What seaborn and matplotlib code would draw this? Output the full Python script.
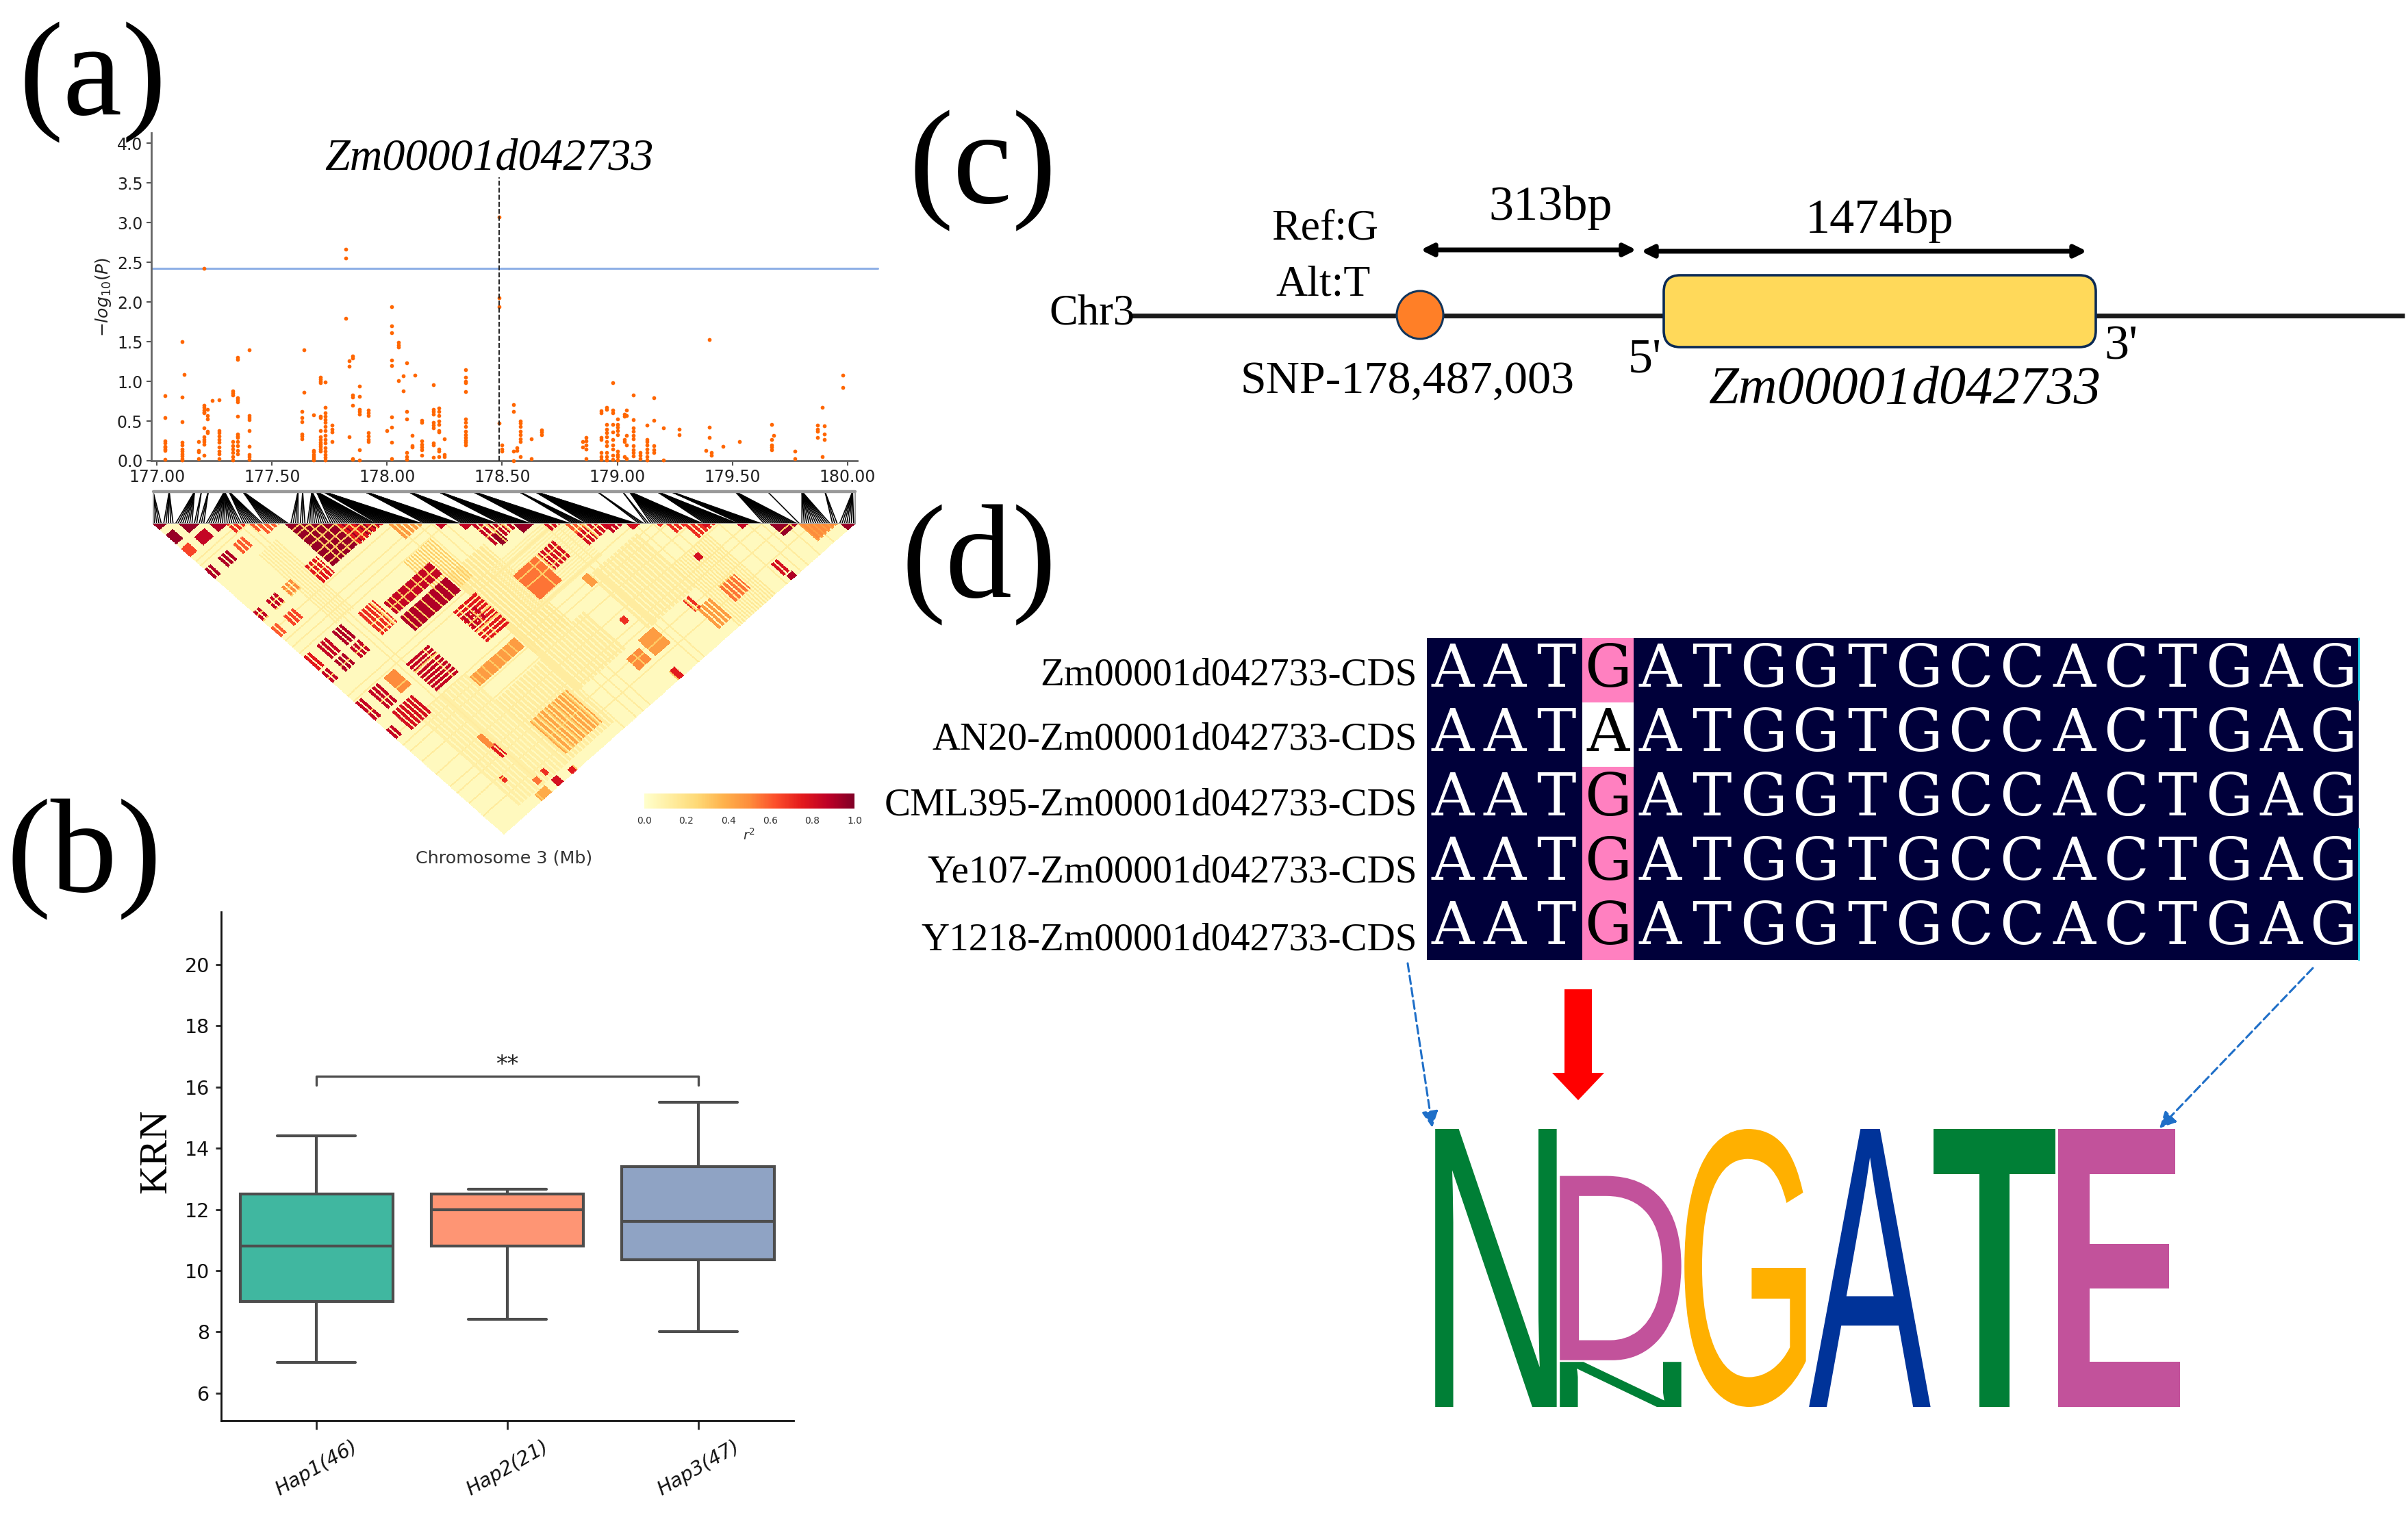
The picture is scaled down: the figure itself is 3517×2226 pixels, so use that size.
import numpy as np
import pandas as pd
import seaborn as sns
import matplotlib
matplotlib.use('Agg')
import matplotlib.pyplot as plt
from matplotlib.colors import ListedColormap
from matplotlib.font_manager import FontProperties
from matplotlib.patches import Ellipse, FancyArrow, FancyBboxPatch, PathPatch
from matplotlib.textpath import TextPath
from matplotlib.transforms import Affine2D

W, H = 3517, 2226

########
# Data #
########

gene_name = 'Zm00001d042733'
snp_mb = 178.487
threshold = 2.42

# (a) manhattan, one position per column of dots
gwas_mb = [177.035, 177.11, 177.12, 177.18, 177.205, 177.22, 177.24, 177.27, 177.33, 177.35, 177.40,
           177.63, 177.64, 177.68, 177.71, 177.73, 177.76, 177.82, 177.835, 177.85, 177.88, 177.92,
           178.00, 178.02, 178.05, 178.07, 178.085, 178.11, 178.12, 178.15, 178.20, 178.225, 178.25,
           178.34, 178.487, 178.50, 178.55, 178.565, 178.58, 178.625, 178.67, 178.85, 178.865,
           178.93, 178.955, 178.98, 179.00, 179.03, 179.04, 179.07, 179.10, 179.13, 179.16, 179.20,
           179.27, 179.385, 179.40, 179.41, 179.46, 179.53, 179.67, 179.68, 179.77, 179.87, 179.89,
           179.90, 179.98]
gwas_logp = [[0.82, 0.54, 0.25, 0.22, 0.18, 0.17, 0.15, 0.13, 0.02],
             [1.50, 0.80, 0.49, 0.23, 0.20, 0.15, 0.12, 0.09, 0.06, 0.03, 0.01],
             [1.09],
             [0.24, 0.13, 0.11, 0.03],
             [2.42, 0.70, 0.67, 0.64, 0.61, 0.60, 0.41, 0.30, 0.27, 0.24, 0.21, 0.07],
             [0.65, 0.57, 0.53, 0.37, 0.35],
             [0.76],
             [0.77, 0.38, 0.35, 0.31, 0.27, 0.23, 0.17, 0.12, 0.09, 0.03],
             [0.88, 0.85, 0.83, 0.24, 0.19, 0.15, 0.10, 0.05, 0.01],
             [1.30, 1.28, 0.79, 0.77, 0.74, 0.56, 0.34, 0.31, 0.29, 0.24, 0.19, 0.13, 0.09],
             [1.40, 0.57, 0.54, 0.52, 0.38, 0.18, 0.08, 0.05, 0.02],
             [0.62, 0.54, 0.49, 0.34, 0.31, 0.28],
             [1.40, 0.86],
             [0.58, 0.13, 0.11, 0.08, 0.05, 0.03, 0.01],
             [1.05, 1.03, 1.00, 0.98, 0.56, 0.54, 0.38, 0.30, 0.27, 0.23, 0.21, 0.18, 0.15, 0.12],
             [0.99, 0.67, 0.60, 0.56, 0.52, 0.48, 0.43, 0.38, 0.32, 0.27, 0.22, 0.16, 0.12, 0.08, 0.04, 0.01],
             [0.45, 0.40, 0.36, 0.24],
             [2.66, 2.55, 1.79],
             [1.26, 1.19, 0.30],
             [1.32, 1.29, 0.83, 0.80, 0.70, 0.03, 0.02],
             [0.94, 0.81, 0.65, 0.62, 0.59, 0.14, 0.01],
             [0.64, 0.60, 0.57, 0.35, 0.31, 0.27, 0.24],
             [0.38],
             [1.94, 1.70, 1.61, 1.27, 1.20, 0.55, 0.42, 0.23, 0.03],
             [1.49, 1.46, 1.43, 1.01],
             [1.07, 0.88],
             [1.23, 0.62, 0.53, 0.10, 0.05, 0.02],
             [0.32, 0.19, 0.17],
             [1.08],
             [0.51, 0.48, 0.25, 0.21, 0.17, 0.14, 0.07],
             [0.96, 0.65, 0.62, 0.59, 0.48, 0.45, 0.41, 0.22, 0.20, 0.04],
             [0.66, 0.62, 0.57, 0.50, 0.46, 0.38, 0.36, 0.15, 0.12, 0.05],
             [0.28, 0.08, 0.05],
             [1.15, 1.05, 1.00, 0.98, 0.87, 0.53, 0.48, 0.43, 0.37, 0.33, 0.29, 0.26, 0.23, 0.20],
             [3.07, 2.05, 1.94, 0.47],
             [0.20, 0.15, 0.12],
             [0.71, 0.62, 0.12, 0.00],
             [0.16, 0.13],
             [0.50, 0.47, 0.43, 0.37, 0.33, 0.28, 0.24, 0.05],
             [0.28, 0.03],
             [0.39, 0.36, 0.33],
             [0.24, 0.17],
             [0.29, 0.25, 0.20, 0.15, 0.03],
             [0.63, 0.60, 0.29, 0.27, 0.10, 0.05, 0.02],
             [0.67, 0.65, 0.46, 0.40, 0.35, 0.30, 0.24, 0.19, 0.10, 0.05, 0.01],
             [0.98, 0.64, 0.60, 0.46, 0.36, 0.27, 0.20, 0.15, 0.07, 0.02],
             [0.53, 0.46, 0.42, 0.38, 0.33, 0.12, 0.08, 0.05, 0.01],
             [0.59, 0.56, 0.27, 0.24, 0.05],
             [0.64, 0.57, 0.32, 0.20, 0.03],
             [0.83, 0.52, 0.41, 0.37, 0.32, 0.28, 0.19, 0.14, 0.10, 0.06],
             [0.10, 0.07, 0.03],
             [0.45, 0.27, 0.24, 0.20, 0.15, 0.10, 0.05, 0.01],
             [0.79, 0.51, 0.19, 0.14, 0.10],
             [0.41, 0.01],
             [0.40, 0.33],
             [0.13],
             [1.53, 0.42, 0.29],
             [0.10, 0.07],
             [0.18],
             [0.24],
             [0.46, 0.27, 0.20, 0.17, 0.14],
             [0.32],
             [0.12, 0.03],
             [0.45, 0.40, 0.37, 0.29],
             [0.67, 0.05],
             [0.44, 0.34, 0.27],
             [1.08, 0.92]]

# (a) connector fans between the axis and the LD triangle: position, number of SNPs
fan_mb = [176.98, 177.05, 177.16, 177.19, 177.22, 177.29, 177.31, 177.37, 177.61, 177.63, 177.67, 177.69,
          177.72, 177.90, 178.09, 178.22, 178.37, 178.57, 178.64, 178.91, 179.02, 179.05, 179.17, 179.23,
          179.51, 179.65, 179.80, 179.90, 180.02]
fan_snps = [4, 5, 8, 2, 3, 16, 9, 11, 4, 3, 10, 20, 20, 16, 16, 14, 17, 6, 22, 3, 2, 23, 15, 10, 15, 1, 13, 3, 7]

# (a) LD blocks read off the triangle: first/last SNP on each side, r2, stripe spacing
# stripe: 1 solid, above 1 stripes along the rows, below -1 stripes along the columns
ld_i0 = [30, 100, 60, 160, 200, 100, 20, 120, 88,
         0, 11, 24, 56, 44, 135, 153, 175, 225, 262, 292, 274,
         0, 11, 0, 0, 11, 24, 44, 11, 0, 24, 11, 0,
         60, 60, 24, 11, 0, 24, 11, 0, 24, 11, 0, 11, 0,
         40, 44, 85, 61, 128, 148, 156, 210, 190, 150, 136, 65, 32, 46, 58, 36, 35, 148, 188, 243, 244,
         166, 175, 191, 201, 214, 218, 233, 248, 270, 275, 31, 41, 78, 100, 120, 130, 138,
         152, 214, 46, 38, 25, 86]
ld_i1 = [44, 130, 100, 200, 230, 140, 60, 175, 110,
         5, 19, 31, 96, 53, 155, 161, 195, 238, 273, 299, 290,
         5, 19, 5, 5, 19, 31, 53, 19, 5, 31, 19, 5,
         98, 98, 31, 19, 5, 31, 19, 5, 32, 19, 5, 28, 5,
         58, 56, 103, 98, 146, 162, 160, 222, 200, 162, 146, 95, 40, 50, 62, 39, 38, 152, 192, 247, 248,
         172, 184, 199, 206, 216, 226, 236, 252, 273, 289, 39, 48, 97, 114, 124, 135, 142,
         155, 217, 48, 41, 27, 96]
ld_j0 = [60, 150, 230, 210, 240, 225, 205, 165, 125,
         0, 11, 24, 56, 44, 135, 153, 175, 225, 262, 292, 274,
         11, 24, 24, 44, 44, 44, 85, 85, 85, 85, 100, 100,
         136, 150, 128, 128, 128, 143, 143, 143, 172, 172, 172, 192, 198,
         175, 130, 170, 208, 178, 178, 208, 270, 272, 262, 266, 255, 292, 292, 294, 250, 240, 290, 262, 282, 294,
         166, 175, 191, 201, 214, 218, 233, 248, 270, 275, 31, 41, 78, 100, 120, 130, 150,
         244, 245, 283, 284, 269, 176]
ld_j1 = [125, 230, 290, 260, 300, 260, 290, 205, 160,
         5, 19, 31, 96, 53, 155, 161, 195, 238, 273, 299, 290,
         19, 31, 31, 52, 52, 52, 100, 93, 93, 93, 108, 108,
         146, 162, 140, 140, 140, 152, 152, 152, 186, 188, 188, 208, 206,
         200, 150, 198, 216, 200, 192, 216, 284, 290, 276, 276, 285, 299, 298, 299, 260, 250, 298, 272, 292, 298,
         172, 184, 199, 206, 216, 226, 236, 252, 273, 289, 39, 48, 97, 114, 124, 135, 158,
         248, 249, 287, 288, 273, 186]
ld_r2 = [0.13, 0.15, 0.13, 0.13, 0.15, 0.13, 0.11, 0.11, 0.28,
         0.95, 0.95, 0.90, 0.95, 0.60, 0.85, 0.95, 0.80, 0.70, 0.95, 0.95, 0.45,
         0.95, 0.85, 0.65, 0.90, 0.90, 0.60, 0.75, 0.85, 0.85, 0.50, 0.65, 0.60,
         0.85, 0.90, 0.90, 0.85, 0.75, 0.85, 0.90, 0.85, 0.50, 0.85, 0.85, 0.80, 0.85,
         0.85, 0.70, 0.75, 0.45, 0.55, 0.80, 0.45, 0.55, 0.45, 0.45, 0.50, 0.42, 0.40, 0.80, 0.75, 0.75, 0.50,
         0.75, 0.70, 0.80, 0.90,
         0.80, 0.60, 0.85, 0.80, 0.70, 0.70, 0.80, 0.85, 0.90, 0.50, 0.70, 0.60, 0.75, 0.45, 0.85, 0.85, 0.95,
         0.70, 0.80, 0.70, 0.55, 0.70, 0.85]
ld_stripe = [2, 3, 3, 3, 2, 3, 3, -2, 2,
             1, 1, 1, 1, 3, 3, 1, 3, 3, 1, 1, 3,
             1, 1, 1, 3, 3, 3, 3, 3, 3, 3, 3, 3,
             1, 1, 3, 3, 3, 3, 3, 3, 1, 3, 3, 3, 3,
             -3, 3, -3, 1, 1, 3, 1, 3, 3, 1, 1, 3, 1, 1, 1, 3, 1, 1, 3, 3, 1,
             3, 3, 3, 1, 1, 3, 1, 1, 1, 3, 3, 3, 3, 3, 1, 1, 1,
             1, 1, 1, 1, 1, 3]
ld_gap_snps = [9, 22, 33, 54, 62, 66, 71, 77, 83, 88, 93, 141, 148, 182, 189, 270]
ld_pale_snps = [36, 40, 102, 112, 118, 124, 165, 170, 204, 212, 218, 228, 240, 252, 258, 268, 280]
ld_pale_r2 = 0.13
ld_background = 0.04

# (b) box plot, five numbers for each haplotype: low whisker, q1, median, q3, high whisker
hap_labels = ['Hap1(46)', 'Hap2(21)', 'Hap3(47)']
hap1_krn = [7.0, 9.0, 10.8, 12.5, 14.4]
hap2_krn = [8.4, 10.8, 12.0, 12.5, 12.65]
hap3_krn = [8.0, 10.35, 11.62, 13.4, 15.5]
hap_colors = ['#40B7A0', '#FE9574', '#8FA3C4']
bracket_y = 16.36

# (d) alignment
seq_names = ['Zm00001d042733-CDS', 'AN20-Zm00001d042733-CDS', 'CML395-Zm00001d042733-CDS',
             'Ye107-Zm00001d042733-CDS', 'Y1218-Zm00001d042733-CDS']
seq_rows = ['AATGATGGTGCCACTGAG', 'AATAATGGTGCCACTGAG', 'AATGATGGTGCCACTGAG',
            'AATGATGGTGCCACTGAG', 'AATGATGGTGCCACTGAG']

# (d) sequence logo
logo_pos = [0, 1, 1, 2, 3, 4, 5]
logo_letters = ['N', 'N', 'D', 'G', 'A', 'T', 'E']
logo_heights = [1.0, 0.162, 0.663, 1.0, 1.0, 1.0, 1.0]
logo_colors = ['#007F36', '#007F36', '#C2529B', '#FFB000', '#003399', '#007F36', '#C2529B']

###########
# Helpers #
###########

sns.set_style('ticks')
serif = 'Liberation Serif'
plt.rcParams['font.family'] = ['DejaVu Sans']

fig = plt.figure(figsize=(W / 100, H / 100), dpi=100)


def px_axes(x0, y0, x1, y1, **kw):
    return fig.add_axes([x0 / W, 1 - y1 / H, (x1 - x0) / W, (y1 - y0) / H], **kw)


canvas = px_axes(0, 0, W, H)
canvas.set_xlim(0, W)
canvas.set_ylim(H, 0)
canvas.axis('off')


def label(x, y, s, size, **kw):
    canvas.text(x, y, s, fontsize=size, family=serif, ha='center', va='center', color='black', **kw)


###############
# (a) scatter #
###############

gwas = pd.DataFrame({'mb': gwas_mb, 'logp': gwas_logp}).explode('logp')
gwas['logp'] = gwas['logp'].astype(float)

ax = px_axes(221, 194, 1252, 673)
ax.patch.set_alpha(0)
sns.scatterplot(data=gwas, x='mb', y='logp', color='#FF6600', s=17, linewidth=0, ax=ax, clip_on=False, zorder=3)
ax.set_xlim(176.976, 180.042)
ax.set_ylim(0, 4.13)
ax.plot([176.976, 180.13], [threshold, threshold], color='#8FB0E6', lw=2.2, clip_on=False, zorder=2)
ax.plot([snp_mb, snp_mb], [0, 3.57], color='#222222', lw=1.4, ls='--', zorder=4)
ax.set_xticks([177, 177.5, 178, 178.5, 179, 179.5, 180])
ax.set_xticklabels(['%.2f' % t for t in ax.get_xticks()])
ax.set_yticks(np.arange(0, 4.5, 0.5))
ax.tick_params(labelsize=17, width=1.5, length=5, color='#555555', labelcolor='#222222', pad=4)
ax.set_xlabel('')
ax.set_ylabel(r'$-log_{10}(P)$', fontsize=18, color='#222222', labelpad=4)
sns.despine(ax=ax)
for side in ['left', 'bottom']:
    ax.spines[side].set_linewidth(2)
    ax.spines[side].set_color('#666666')

label(714, 232, gene_name, 47.5, style='italic')

#################
# (a) connector #
#################

band = px_axes(223.6, 718, 1248.6, 765)
band.set_xlim(176.98, 180.03)
band.set_ylim(1, 0)
band.axis('off')
fan_tops = np.repeat(fan_mb, fan_snps)
n_snps = len(fan_tops)
for k, top in enumerate(fan_tops):
    bottom = 176.98 + (k + 0.5) / n_snps * 3.05
    band.plot([top, bottom], [0, 1], color='black', lw=1.15, solid_capstyle='butt')
band.plot([176.98, 180.03], [0, 0], color='#999999', lw=3.2, clip_on=False)
band.plot([176.98, 180.03], [1, 1], color='#aaaaaa', lw=1.4, clip_on=False)
band.plot([176.98, 176.98], [0, 1], color='#999999', lw=1.4, clip_on=False)
band.plot([180.03, 180.03], [0, 1], color='#999999', lw=1.4, clip_on=False)

###################
# (a) LD triangle #
###################

ld = np.full((n_snps, n_snps), ld_background)
for s in ld_pale_snps:
    ld[s, :] = ld_pale_r2
    ld[:, s] = ld_pale_r2
for i0, i1, j0, j1, r2, step in zip(ld_i0, ld_i1, ld_j0, ld_j1, ld_r2, ld_stripe):
    rows = [i for i in range(i0, min(i1, n_snps - 1) + 1) if step < 2 or (i - i0) % step != step - 1]
    cols = [j for j in range(j0, min(j1, n_snps - 1) + 1) if step > -2 or (j - j0) % -step != -step - 1]
    ld[np.ix_(rows, cols)] = r2
for g in ld_gap_snps:
    ld[g, :] = np.minimum(ld[g, :], 0.3)
    ld[:, g] = np.minimum(ld[:, g], 0.3)

tri = px_axes(223.6, 765, 1248.6, 1218.5)
cax = px_axes(941, 1159, 1248, 1181)
sns.heatmap(ld, mask=np.tril(np.ones_like(ld, dtype=bool), k=-1), cmap='YlOrRd', vmin=0, vmax=1,
            xticklabels=False, yticklabels=False, ax=tri, cbar_ax=cax,
            cbar_kws={'orientation': 'horizontal', 'ticks': [0, 0.2, 0.4, 0.6, 0.8, 1.0]})
# turn the matrix by 45 degrees so the diagonal runs along the top
mesh = tri.collections[0]
mesh.set_transform(Affine2D(np.array([[0.5, 0.5, 0], [0.5, -0.5, 0], [0, 0, 1]])) + tri.transData)
mesh.set_antialiased(False)
tri.set_xlim(0, n_snps)
tri.set_ylim(n_snps / 2, 0)
tri.axis('off')
mesh.colorbar.outline.set_visible(False)
cax.tick_params(labelsize=10, length=0, pad=8, labelcolor='#333333')
cax.set_xlabel(r'$r^2$', fontsize=14, labelpad=2, color='#333333')
canvas.text(736, 1253, 'Chromosome 3 (Mb)', fontsize=18.3, ha='center', va='center', color='#333333')

###########
# (b) box #
###########

krn = pd.DataFrame({'hap': np.repeat(hap_labels, 5), 'krn': hap1_krn + hap2_krn + hap3_krn})
ax = px_axes(323, 1332, 1159, 2075)
ax.patch.set_alpha(0)
sns.boxplot(data=krn, x='hap', y='krn', hue='hap', palette=hap_colors, saturation=1, width=0.8,
            whis=(0, 100), linewidth=3, linecolor='#4d4d4d', capwidths=0.41, legend=False, ax=ax)
ax.set_xlim(-0.5, 2.5)
ax.set_ylim(5.1, 21.72)
ax.set_yticks(range(6, 21, 2))
ax.tick_params(axis='y', labelsize=20.5, width=2, length=6, labelcolor='#111111', pad=6)
ax.tick_params(axis='x', labelsize=20.5, width=2, length=9, labelcolor='#111111', pad=8)
ax.set_xticks(range(3))
ax.set_xticklabels(hap_labels, rotation=30, style='italic')
ax.set_xlabel('')
ax.set_ylabel('')
ax.plot([0, 0, 2, 2], [16.05, bracket_y, bracket_y, 16.05], color='#4d4d4d', lw=2.4)
ax.text(1, 16.72, '**', ha='center', va='center', fontsize=24, color='#222222')
sns.despine(ax=ax)
for side in ['left', 'bottom']:
    ax.spines[side].set_linewidth(2)
    ax.spines[side].set_color('#111111')
label(228, 1681, 'KRN', 42, rotation=90)

######################
# (c) gene structure #
######################

canvas.plot([1650, 3512], [461, 461], color='#1a1a1a', lw=5, solid_capstyle='butt', zorder=1)
canvas.add_patch(FancyBboxPatch((2430, 402), 631, 105, boxstyle='round,pad=0,rounding_size=24',
                                fc='#FFD95A', ec='#0B2A55', lw=2.6, zorder=2))
canvas.add_patch(Ellipse((2074, 460), 68, 70, fc='#FF7F27', ec='#12355B', lw=2.2, zorder=2))
for x0, x1, y in [(2075, 2390, 365), (2397, 3048, 367)]:
    canvas.annotate('', xy=(x1, y), xytext=(x0, y),
                    arrowprops=dict(arrowstyle='<|-|>', color='black', lw=5, mutation_scale=26,
                                    shrinkA=0, shrinkB=0))
label(1595, 458, 'Chr3', 45)
label(1935, 335, 'Ref:G', 46)
label(1933, 416, 'Alt:T', 46)
label(2056, 557, 'SNP-178,487,003', 49)
label(2265, 303, '313bp', 52)
label(2745, 322, '1474bp', 52)
label(2402, 526, "5'", 52)
label(3098, 507, "3'", 52)
label(2782, 570, gene_name, 56.6, style='italic')

#################
# (d) alignment #
#################

letters = np.array([list(r) for r in seq_rows])
consensus = letters[0]
varies = (letters != consensus).any(axis=0)
cell_kind = np.where(varies, np.where(letters == consensus, 1, 2), 0)

ax = px_axes(2084, 932, 3445, 1402)
sns.heatmap(cell_kind, cmap=ListedColormap(['#00003A', '#FF80C0', '#FFFFFF']), vmin=0, vmax=2, cbar=False,
            annot=letters, fmt='', annot_kws={'fontsize': 62, 'family': 'DejaVu Serif'},
            xticklabels=False, yticklabels=seq_names, ax=ax)
for txt, kind in zip(ax.texts, cell_kind.ravel()):
    txt.set_color('white' if kind == 0 else 'black')
ax.set_yticks([0.58, 1.58, 2.6, 3.64, 4.7])
ax.set_yticklabels(seq_names)
ax.tick_params(axis='y', length=0, pad=10)
for t in ax.get_yticklabels():
    t.set_rotation(0)
    t.set_fontfamily(serif)
    t.set_fontsize(41)
    t.set_color('black')
canvas.plot([3445, 3445], [932, 1022], color='#20D0E8', lw=2)
canvas.plot([3445, 3445], [1210, 1402], color='#20D0E8', lw=2)

##########
# Arrows #
##########

for start, end in [((2056, 1407), (2092, 1647)), ((3378, 1414), (3154, 1648))]:
    canvas.annotate('', xy=end, xytext=start,
                    arrowprops=dict(arrowstyle='-|>', color='#1F6FC8', lw=2.2, ls=(0, (4, 2)),
                                    mutation_scale=36, shrinkA=0, shrinkB=0))
canvas.add_patch(FancyArrow(2305, 1445, 0, 162, width=40, head_width=76, head_length=40,
                            length_includes_head=True, fc='#FF0000', ec='none'))

############
# (d) logo #
############

logo = px_axes(2094, 1649, 3186, 2055)
logo.set_xlim(0, 6)
logo.set_ylim(0, 1)
logo.axis('off')
stack = {}
for pos, letter, height, color in zip(logo_pos, logo_letters, logo_heights, logo_colors):
    # T and E have the heavier strokes in the logo
    prop = FontProperties(family='Liberation Sans', weight='bold' if letter in 'TE' else 'normal')
    path = TextPath((0, 0), letter, size=1, prop=prop)
    box = path.get_extents()
    base = stack.get(pos, 0)
    fit = (Affine2D().translate(-box.x0, -box.y0).scale(0.975 / box.width, height / box.height)
           .translate(pos + 0.012, base))
    logo.add_patch(PathPatch(path, transform=fit + logo.transData, fc=color, lw=0))
    stack[pos] = base + height + 0.006

################
# Panel labels #
################

label(135, 121, '(a)', 140)
label(123, 1256, '(b)', 140)
label(1435, 250, '(c)', 140)
label(1430, 826, '(d)', 140)

canvas.set_zorder(5)
fig.savefig('out.png', dpi=100, facecolor='white')
